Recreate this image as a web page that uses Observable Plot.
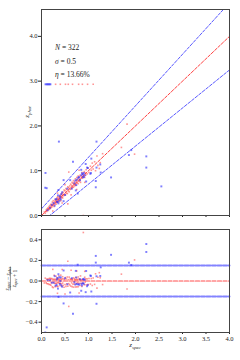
<!DOCTYPE html>
<html><head><meta charset="utf-8">
<script src="https://cdn.jsdelivr.net/npm/d3@7"></script>
<script src="https://cdn.jsdelivr.net/npm/@observablehq/plot@0.6"></script>
<style>
body{margin:0;background:#fff;}
#chart{width:240px;height:360px;}
#chart svg{display:block;}
</style></head><body><div id="chart"></div>
<script>
// [zspec, zphot] — lighter red sample
const redPoints = [
[0.06,0.08],[0.08,0.05],[0.10,0.12],[0.11,0.09],[0.12,0.15],[0.13,0.11],[0.14,0.17],[0.15,0.13],[0.16,0.20],[0.17,0.14],[0.18,0.22],[0.19,0.16],[0.20,0.25],[0.20,0.18],
[0.21,0.23],[0.22,0.19],[0.23,0.30],[0.24,0.22],[0.24,0.10],[0.25,0.27],[0.25,0.33],[0.26,0.24],[0.27,0.20],[0.28,0.31],[0.28,0.26],[0.29,0.36],[0.30,0.28],[0.30,0.33],[0.31,0.25],[0.32,0.35],[0.32,0.30],[0.33,0.40],[0.33,0.29],[0.34,0.36],[0.34,0.50],[0.35,0.32],[0.35,0.42],[0.36,0.34],[0.36,0.38],[0.37,0.30],[0.38,0.41],[0.38,0.36],[0.39,0.45],[0.40,0.37],[0.40,0.43],[0.41,0.33],[0.42,0.46],[0.42,0.40],[0.43,0.50],[0.44,0.41],[0.44,0.28],[0.45,0.48],[0.45,0.39],
[0.46,0.52],[0.47,0.44],[0.48,0.57],[0.49,0.47],[0.50,0.55],[0.50,0.69],[0.51,0.46],[0.52,0.60],[0.53,0.50],[0.54,0.58],[0.55,0.49],[0.56,0.64],[0.56,0.26],[0.57,0.55],[0.58,0.97],[0.58,0.62],[0.59,0.53],
[0.60,0.66],[0.61,0.58],[0.62,0.70],[0.63,0.60],[0.63,0.46],[0.64,0.67],[0.65,0.62],[0.65,0.74],[0.66,0.64],[0.67,0.72],[0.68,0.63],[0.68,0.78],[0.69,0.70],[0.70,0.66],[0.70,0.75],[0.71,0.69],[0.72,0.82],[0.72,0.70],[0.73,0.67],[0.74,0.78],[0.75,0.72],[0.75,0.85],[0.75,0.58],[0.76,0.74],[0.77,0.80],[0.78,0.71],[0.78,0.88],[0.79,0.76],[0.80,0.84],[0.80,1.01],[0.81,0.77],[0.82,0.90],[0.82,0.80],[0.83,0.74],[0.84,0.88],[0.85,0.83],[0.86,0.96],[0.87,0.84],[0.88,0.92],[0.89,0.00],[0.90,0.88],[0.91,0.98],[0.92,0.85],[0.92,0.74],[0.93,0.95],[0.94,0.90],[0.95,1.02],
[0.97,0.93],[0.99,1.06],[1.01,0.96],[1.04,1.10],[1.06,1.01],[1.08,1.17],[1.10,1.04],[1.13,1.20],[1.15,1.00],[1.18,1.33],[1.20,1.12],[1.23,1.05],[1.25,1.18],[1.30,1.38],
[1.70,1.52],[1.82,2.04],[1.98,1.37],
[0.30,2.93],[0.40,2.93],[0.51,2.93],[0.57,2.93],[0.66,2.93],[0.79,2.93],[0.87,2.93],[0.98,2.93],[1.10,2.93]
];
// [zspec, zphot] — blue sample
const bluePoints = [
[0.085,0.95],[0.11,0.61],[0.08,0.62],[0.13,0.12],[0.18,0.17],[0.22,0.24],[0.26,0.28],[0.28,0.22],[0.30,0.36],[0.32,0.37],[0.33,0.31],[0.34,0.30],[0.35,0.45],[0.36,0.27],[0.36,0.57],[0.37,1.65],[0.38,0.33],[0.39,0.43],[0.40,0.40],[0.41,0.36],[0.42,0.48],[0.44,0.52],[0.47,0.32],[0.47,0.79],[0.50,0.46],[0.55,0.60],[0.61,0.79],[0.645,0.60],[0.67,1.20],[0.70,0.72],[0.72,0.78],[0.73,0.56],[0.74,0.68],[0.75,0.80],[0.77,0.49],[0.78,0.84],[0.80,0.86],[0.82,0.79],[0.845,1.02],[0.85,0.90],[0.86,0.94],[0.88,0.85],[0.88,0.92],[0.90,0.86],[0.90,0.95],[0.92,0.90],[0.94,1.15],[0.95,0.76],[0.97,1.07],[0.985,1.06],[1.04,0.93],[1.05,0.95],[1.06,1.27],[1.155,0.63],[1.155,0.77],[1.17,1.65],[1.17,1.07],[1.25,1.14],[1.26,0.96],[1.48,0.85],[1.86,1.35],[1.91,1.46],[2.23,1.32],[2.23,1.07],[2.55,0.65],
[0.085,2.93],[0.11,2.93],[0.13,2.93],[0.15,2.93],[0.17,2.93],[0.19,2.93]
];
const statN = 322;
const statSigma = 0.5;
const statEta = 13.66;
const outlierThreshold = 0.15;
const zRange = [0, 4];
const xTicks = [0, 0.5, 1, 1.5, 2, 2.5, 3, 3.5, 4];
const yTicksTop = [0, 1, 2, 3, 4];
const yTicksBottom = [-0.4, -0.2, 0, 0.2, 0.4];

const toRow = ([zs, zp]) => ({zs, zp, dz: (zs - zp) / (1 + zs)});
const red = redPoints.map(toRow);
const blue = bluePoints.map(toRow);
const refLines = zRange.map(x => ({x, one: x, upper: x + outlierThreshold * (1 + x), lower: x - outlierThreshold * (1 + x), zero: 0, hi: outlierThreshold, lo: -outlierThreshold}));

const font = "'Liberation Serif','DejaVu Serif',serif";
const fmt = d3.format(".1f");
const blueLine = "#3030ff", redLine = "#ff2020";

const topPlot = Plot.plot({
  width: 240, height: 222, marginTop: 9, marginBottom: 7, marginLeft: 41, marginRight: 11,
  style: {fontFamily: font, fontSize: "6.5px", background: "white", color: "#222"},
  x: {domain: zRange, ticks: xTicks, tickFormat: () => "", tickSize: 2, label: null},
  y: {domain: [0, 4.6], ticks: yTicksTop, tickSize: 3, tickPadding: 1, label: null},
  marks: [
    Plot.line(refLines, {x: "x", y: "upper", stroke: blueLine, strokeOpacity: 0.8, strokeWidth: 1, strokeDasharray: "3,1.6", clip: true}),
    Plot.line(refLines, {x: "x", y: "lower", stroke: blueLine, strokeOpacity: 0.8, strokeWidth: 1, strokeDasharray: "3,1.6", clip: true}),
    Plot.line(refLines, {x: "x", y: "one", stroke: redLine, strokeOpacity: 0.85, strokeWidth: 1, strokeDasharray: "3,1.6", clip: true}),
    Plot.dot(red, {x: "zs", y: "zp", symbol: "square", r: 0.9, fill: "#ff4040", fillOpacity: 0.55, stroke: "none", clip: true}),
    Plot.dot(blue, {x: "zs", y: "zp", symbol: "square", r: 1.1, fill: "#2a2aff", fillOpacity: 0.6, stroke: "none", clip: true}),
    Plot.frame({stroke: "#444", strokeWidth: 1})
  ]
});

const bottomPlot = Plot.plot({
  width: 240, height: 138, marginTop: 7, marginBottom: 28, marginLeft: 41, marginRight: 11,
  style: {fontFamily: font, fontSize: "6.5px", background: "white", color: "#222"},
  x: {domain: zRange, ticks: xTicks, tickFormat: fmt, tickSize: 2, tickPadding: 2, label: null},
  y: {domain: [-0.5, 0.5], ticks: yTicksBottom, tickFormat: fmt, tickSize: 2.5, tickPadding: 1.5, label: null},
  marks: [
    Plot.line(refLines, {x: "x", y: "hi", stroke: blueLine, strokeOpacity: 0.6, strokeWidth: 2, strokeDasharray: "4,1.5"}),
    Plot.line(refLines, {x: "x", y: "lo", stroke: blueLine, strokeOpacity: 0.6, strokeWidth: 2, strokeDasharray: "4,1.5"}),
    Plot.line(refLines, {x: "x", y: "zero", stroke: redLine, strokeOpacity: 0.8, strokeWidth: 1.2, strokeDasharray: "4,1.5"}),
    Plot.dot(red, {x: "zs", y: "dz", symbol: "square", r: 0.9, fill: "#ff4040", fillOpacity: 0.55, stroke: "none", clip: true}),
    Plot.dot(blue, {x: "zs", y: "dz", symbol: "square", r: 1.1, fill: "#2a2aff", fillOpacity: 0.6, stroke: "none", clip: true}),
    Plot.frame({stroke: "#444", strokeWidth: 1})
  ]
});

const chart = document.getElementById("chart");
chart.append(topPlot, bottomPlot);

// helper: math-like label "z" + subscript
function zSub(sel, sub, size) {
  sel.append("tspan").attr("font-style", "italic").text("z");
  sel.append("tspan").attr("font-style", "italic").attr("font-size", size * 0.7).attr("dy", size * 0.25).text(sub);
  sel.append("tspan").attr("dy", -size * 0.25).text("");
}

const sxT = topPlot.scale("x"), syT = topPlot.scale("y");
const topSvg = d3.select(topPlot);
// stats annotation
const statsX = sxT.apply(0) + 14;
const stats = [
  {sym: "N", val: ` = ${statN}`, y: 50},
  {sym: "σ", val: ` = ${statSigma}`, y: 64},
  {sym: "η", val: ` = ${statEta}%`, y: 77}
];
stats.forEach(s => {
  const t = topSvg.append("text").attr("x", statsX).attr("y", s.y).attr("text-anchor", "start")
    .attr("font-family", font).attr("font-size", 7.5).attr("fill", "#222");
  t.append("tspan").attr("font-style", "italic").text(s.sym);
  t.append("tspan").text(s.val);
});
// y label top
const ylab = topSvg.append("text")
  .attr("transform", `translate(29,${(syT.apply(0) + syT.apply(4.6)) / 2}) rotate(-90)`)
  .attr("text-anchor", "middle").attr("font-family", font).attr("font-size", 7).attr("fill", "#222");
zSub(ylab, "phot", 7);

const sxB = bottomPlot.scale("x"), syB = bottomPlot.scale("y");
const botSvg = d3.select(bottomPlot);
// x label
const xlab = botSvg.append("text")
  .attr("x", (sxB.apply(0) + sxB.apply(4)) / 2).attr("y", 125)
  .attr("text-anchor", "middle").attr("font-family", font).attr("font-size", 7).attr("fill", "#222");
zSub(xlab, "spec", 7);

// fraction y label
const fs = 5.5;
const g = botSvg.append("g")
  .attr("transform", `translate(11,${syB.apply(0) - 2}) rotate(-90)`)
  .attr("font-family", font).attr("font-size", fs).attr("fill", "#222");
const num = g.append("text").attr("text-anchor", "middle").attr("y", -2.4);
zSub(num, "spec", fs);
num.append("tspan").text(" − ");
zSub(num, "phot", fs);
const den = g.append("text").attr("text-anchor", "middle").attr("y", 4.6);
zSub(den, "spec", fs);
den.append("tspan").text(" + 1");
let w = 26;
try { w = num.node().getComputedTextLength(); } catch (e) {}
g.append("line").attr("x1", -w / 2).attr("x2", w / 2).attr("y1", -0.6).attr("y2", -0.6)
  .attr("stroke", "#222").attr("stroke-width", 0.5);
</script>
</body></html>
